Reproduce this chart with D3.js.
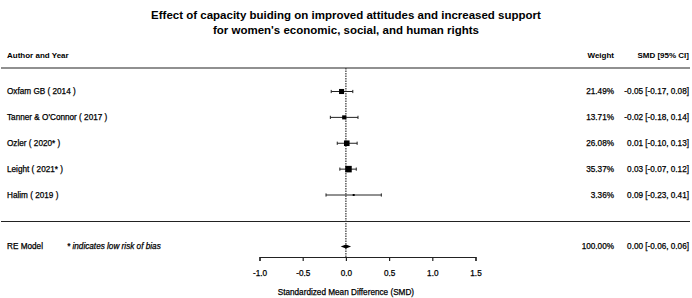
<!DOCTYPE html>
<html>
<head>
<meta charset="utf-8">
<script src="https://cdn.jsdelivr.net/npm/d3@7"></script>
<style>
  body { margin: 0; background: #fff; }
  text { font-family: "Liberation Sans", Arial, sans-serif; fill: #000; }
  .heavy { stroke: #000; stroke-width: 0.25px; }
</style>
</head>
<body>
<div id="chart"></div>
<script>
// study data
const studies = ["Oxfam GB ( 2014 )", "Tanner & O'Connor ( 2017 )", "Ozler ( 2020* )", "Leight ( 2021* )", "Halim ( 2019 )"];
const smd = [-0.05, -0.02, 0.01, 0.03, 0.09];
const ciLow = [-0.17, -0.18, -0.10, -0.07, -0.23];
const ciHigh = [0.08, 0.14, 0.13, 0.12, 0.41];
const weights = [21.49, 13.71, 26.08, 35.37, 3.36];

// pooled random-effects estimate
const reEst = 0.00, reLow = -0.06, reHigh = 0.06;

const xTicks = [-1.0, -0.5, 0.0, 0.5, 1.0, 1.5];

const W = 692, H = 298;
const svg = d3.select("#chart").append("svg")
  .attr("width", W)
  .attr("height", H);

const x = d3.scaleLinear().domain([-1, 1.5]).range([259.5, 475.5]);
const y = d3.scaleLinear().domain([0, 4]).range([91.5, 195]);
const size = d3.scaleSqrt().domain([0, d3.max(weights)]).range([0, 6.5]);

// plain hyphen for negative numbers, like the original
const locale = d3.formatLocale({decimal: ".", thousands: ",", grouping: [3], currency: ["", ""], minus: "-"});
const fmt = locale.format(".2f");
const fmt1 = locale.format(".1f");

const colW = 614, colS = 689;
const fs = "8.2px";

// title
svg.append("text")
  .attr("x", W / 2).attr("y", 19)
  .attr("text-anchor", "middle")
  .style("font-size", "11.5px").style("font-weight", "bold")
  .text("Effect of capacity buiding on improved attitudes and increased support");
svg.append("text")
  .attr("x", W / 2).attr("y", 34)
  .attr("text-anchor", "middle")
  .style("font-size", "11.5px").style("font-weight", "bold")
  .text("for women's economic, social, and human rights");

// header
const head = svg.append("g").style("font-size", "8px").style("font-weight", "bold");
head.append("text").attr("x", 7).attr("y", 58).text("Author and Year");
head.append("text").attr("x", colW).attr("y", 58).attr("text-anchor", "end").text("Weight");
head.append("text").attr("x", colS).attr("y", 58).attr("text-anchor", "end").text("SMD [95% CI]");

svg.append("line")
  .attr("x1", 1).attr("x2", W - 2)
  .attr("y1", 68).attr("y2", 68)
  .attr("stroke", "#222").attr("stroke-width", 1.2);

svg.append("line")
  .attr("x1", 1).attr("x2", W - 2)
  .attr("y1", 221.5).attr("y2", 221.5)
  .attr("stroke", "#222").attr("stroke-width", 1.2);

// reference line at 0
svg.append("line")
  .attr("x1", x(0)).attr("x2", x(0))
  .attr("y1", 68).attr("y2", 257)
  .attr("stroke", "#333").attr("stroke-width", 1.2)
  .attr("stroke-dasharray", "1.5,1");

// study rows
const rows = svg.selectAll(".row")
  .data(studies)
  .enter()
  .append("g")
  .attr("class", "row")
  .attr("transform", (d, i) => `translate(0,${y(i)})`);

rows.append("text")
  .attr("class", "heavy")
  .attr("x", 7).attr("dy", "0.35em")
  .style("font-size", fs)
  .text(d => d);

rows.append("line")
  .attr("x1", (d, i) => x(ciLow[i]))
  .attr("x2", (d, i) => x(ciHigh[i]))
  .attr("stroke", "#222").attr("stroke-width", 1);

rows.append("line")
  .attr("x1", (d, i) => x(ciLow[i])).attr("x2", (d, i) => x(ciLow[i]))
  .attr("y1", -1.6).attr("y2", 1.6)
  .attr("stroke", "#222").attr("stroke-width", 1);
rows.append("line")
  .attr("x1", (d, i) => x(ciHigh[i])).attr("x2", (d, i) => x(ciHigh[i]))
  .attr("y1", -1.6).attr("y2", 1.6)
  .attr("stroke", "#222").attr("stroke-width", 1);

rows.append("rect")
  .attr("x", (d, i) => x(smd[i]) - size(weights[i]) / 2)
  .attr("y", (d, i) => -size(weights[i]) / 2)
  .attr("width", (d, i) => size(weights[i]))
  .attr("height", (d, i) => size(weights[i]))
  .attr("fill", "#000");

rows.append("text")
  .attr("class", "heavy")
  .attr("x", colW).attr("dy", "0.35em")
  .attr("text-anchor", "end")
  .style("font-size", fs)
  .text((d, i) => fmt(weights[i]) + "%");

rows.append("text")
  .attr("class", "heavy")
  .attr("x", colS).attr("dy", "0.35em")
  .attr("text-anchor", "end")
  .style("font-size", fs)
  .text((d, i) => `${fmt(smd[i])} [${fmt(ciLow[i])}, ${fmt(ciHigh[i])}]`);

// RE model row
const reY = 246.5;
svg.append("text")
  .attr("class", "heavy")
  .attr("x", 7).attr("y", reY).attr("dy", "0.35em")
  .style("font-size", fs)
  .text("RE Model");
svg.append("text")
  .attr("class", "heavy")
  .attr("x", 67).attr("y", reY).attr("dy", "0.35em")
  .style("font-size", fs).style("font-style", "italic")
  .text("* indicates low risk of bias");

svg.append("path")
  .attr("d", `M${x(reLow)},${reY} L${x(reEst)},${reY - 2} L${x(reHigh)},${reY} L${x(reEst)},${reY + 2} Z`)
  .attr("fill", "#000");

svg.append("text")
  .attr("class", "heavy")
  .attr("x", colW).attr("y", reY).attr("dy", "0.35em")
  .attr("text-anchor", "end")
  .style("font-size", fs)
  .text("100.00%");
svg.append("text")
  .attr("class", "heavy")
  .attr("x", colS).attr("y", reY).attr("dy", "0.35em")
  .attr("text-anchor", "end")
  .style("font-size", fs)
  .text(`${fmt(reEst)} [${fmt(reLow)}, ${fmt(reHigh)}]`);

// x axis
const axis = svg.append("g")
  .attr("transform", "translate(0,257)")
  .call(d3.axisBottom(x).tickValues(xTicks).tickFormat(fmt1).tickSize(4).tickPadding(9));
axis.select(".domain").attr("stroke", "#222").attr("stroke-width", 1.2);
axis.selectAll(".tick line").attr("stroke", "#222").attr("stroke-width", 1.2);
axis.selectAll(".tick text")
  .attr("class", "heavy")
  .style("font-size", fs)
  .style("font-family", "'Liberation Sans', Arial, sans-serif");

svg.append("text")
  .attr("class", "heavy")
  .attr("x", x(0)).attr("y", 295)
  .attr("text-anchor", "middle")
  .style("font-size", fs)
  .text("Standardized Mean Difference (SMD)");
</script>
</body>
</html>
